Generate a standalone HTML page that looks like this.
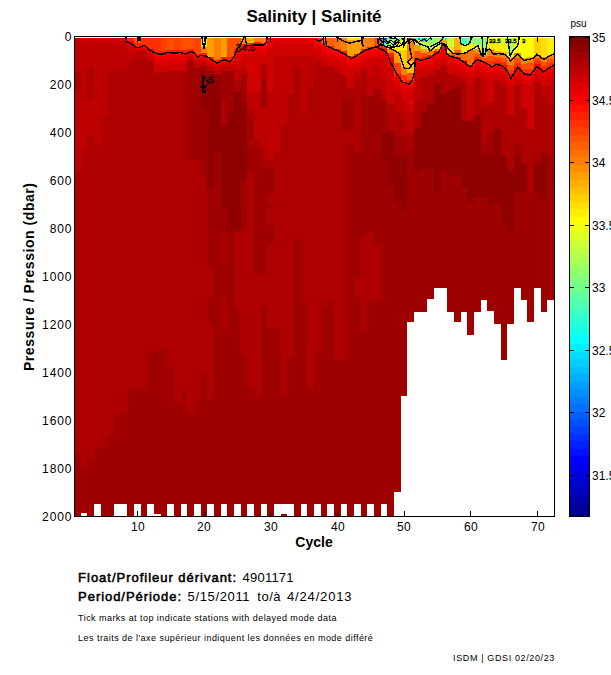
<!DOCTYPE html>
<html><head><meta charset="utf-8"><style>
html,body{margin:0;padding:0;background:#fff;width:611px;height:675px;overflow:hidden}
body{position:relative}
text{font-family:"Liberation Sans",sans-serif;fill:#000}
</style></head><body>
<svg width="611" height="675" viewBox="0 0 611 675" style="position:absolute;left:0;top:0" shape-rendering="crispEdges">
<rect x="74.00" y="38.00" width="6.67" height="0.90" fill="#cf0000"/>
<rect x="74.00" y="38.90" width="6.67" height="32.88" fill="#bf0000"/>
<rect x="74.00" y="71.78" width="6.67" height="20.64" fill="#af0000"/>
<rect x="74.00" y="92.42" width="6.67" height="79.68" fill="#bf0000"/>
<rect x="74.00" y="172.10" width="6.67" height="282.00" fill="#af0000"/>
<rect x="74.00" y="454.10" width="6.67" height="62.40" fill="#9f0000"/>
<rect x="80.67" y="38.00" width="6.67" height="6.18" fill="#cf0000"/>
<rect x="80.67" y="44.18" width="6.67" height="104.88" fill="#bf0000"/>
<rect x="80.67" y="149.06" width="6.67" height="316.80" fill="#af0000"/>
<rect x="80.67" y="465.86" width="6.67" height="50.64" fill="#9f0000"/>
<rect x="80.67" y="512.90" width="6.67" height="3.60" fill="#fff"/>
<rect x="87.33" y="38.00" width="6.67" height="28.50" fill="#bf0000"/>
<rect x="87.33" y="66.50" width="6.67" height="33.12" fill="#af0000"/>
<rect x="87.33" y="99.62" width="6.67" height="36.72" fill="#bf0000"/>
<rect x="87.33" y="136.34" width="6.67" height="321.36" fill="#af0000"/>
<rect x="87.33" y="457.70" width="6.67" height="58.80" fill="#9f0000"/>
<rect x="94.00" y="38.00" width="6.67" height="3.78" fill="#cf0000"/>
<rect x="94.00" y="41.78" width="6.67" height="103.68" fill="#bf0000"/>
<rect x="94.00" y="145.46" width="6.67" height="301.68" fill="#af0000"/>
<rect x="94.00" y="447.14" width="6.67" height="56.64" fill="#9f0000"/>
<rect x="100.67" y="38.00" width="6.67" height="3.78" fill="#cf0000"/>
<rect x="100.67" y="41.78" width="6.67" height="74.88" fill="#bf0000"/>
<rect x="100.67" y="116.66" width="6.67" height="330.48" fill="#af0000"/>
<rect x="100.67" y="447.14" width="6.67" height="69.36" fill="#9f0000"/>
<rect x="107.33" y="38.00" width="6.67" height="3.78" fill="#cf0000"/>
<rect x="107.33" y="41.78" width="6.67" height="29.28" fill="#bf0000"/>
<rect x="107.33" y="71.06" width="6.67" height="364.32" fill="#af0000"/>
<rect x="107.33" y="435.38" width="6.67" height="81.12" fill="#9f0000"/>
<rect x="114.00" y="38.00" width="6.67" height="7.38" fill="#cf0000"/>
<rect x="114.00" y="45.38" width="6.67" height="23.76" fill="#bf0000"/>
<rect x="114.00" y="69.14" width="6.67" height="345.60" fill="#af0000"/>
<rect x="114.00" y="414.74" width="6.67" height="89.04" fill="#9f0000"/>
<rect x="120.67" y="38.00" width="6.67" height="3.06" fill="#df0000"/>
<rect x="120.67" y="41.06" width="6.67" height="28.08" fill="#bf0000"/>
<rect x="120.67" y="69.14" width="6.67" height="343.92" fill="#af0000"/>
<rect x="120.67" y="413.06" width="6.67" height="90.72" fill="#9f0000"/>
<rect x="127.33" y="38.00" width="6.67" height="2.82" fill="#ff2000"/>
<rect x="127.33" y="40.82" width="6.67" height="4.08" fill="#ef0000"/>
<rect x="127.33" y="44.90" width="6.67" height="7.20" fill="#cf0000"/>
<rect x="127.33" y="52.10" width="6.67" height="9.12" fill="#bf0000"/>
<rect x="127.33" y="61.22" width="6.67" height="327.60" fill="#af0000"/>
<rect x="127.33" y="388.82" width="6.67" height="127.68" fill="#9f0000"/>
<rect x="134.00" y="38.00" width="6.67" height="5.22" fill="#ff5000"/>
<rect x="134.00" y="43.22" width="6.67" height="3.60" fill="#ff2000"/>
<rect x="134.00" y="46.82" width="6.67" height="4.32" fill="#df0000"/>
<rect x="134.00" y="51.14" width="6.67" height="7.20" fill="#bf0000"/>
<rect x="134.00" y="58.34" width="6.67" height="330.48" fill="#af0000"/>
<rect x="134.00" y="388.82" width="6.67" height="114.96" fill="#9f0000"/>
<rect x="140.67" y="38.00" width="6.67" height="6.90" fill="#ff3000"/>
<rect x="140.67" y="44.90" width="6.67" height="5.52" fill="#ef0000"/>
<rect x="140.67" y="50.42" width="6.67" height="8.88" fill="#bf0000"/>
<rect x="140.67" y="59.30" width="6.67" height="329.52" fill="#af0000"/>
<rect x="140.67" y="388.82" width="6.67" height="127.68" fill="#9f0000"/>
<rect x="147.33" y="38.00" width="6.67" height="10.50" fill="#ff3000"/>
<rect x="147.33" y="48.50" width="6.67" height="4.80" fill="#ef0000"/>
<rect x="147.33" y="53.30" width="6.67" height="7.20" fill="#cf0000"/>
<rect x="147.33" y="60.50" width="6.67" height="292.56" fill="#af0000"/>
<rect x="147.33" y="353.06" width="6.67" height="150.72" fill="#9f0000"/>
<rect x="154.00" y="38.00" width="6.67" height="12.66" fill="#ff3000"/>
<rect x="154.00" y="50.66" width="6.67" height="2.88" fill="#ff2000"/>
<rect x="154.00" y="53.54" width="6.67" height="2.40" fill="#ff0000"/>
<rect x="154.00" y="55.94" width="6.67" height="3.60" fill="#ef0000"/>
<rect x="154.00" y="59.54" width="6.67" height="4.80" fill="#df0000"/>
<rect x="154.00" y="64.34" width="6.67" height="7.20" fill="#cf0000"/>
<rect x="154.00" y="71.54" width="6.67" height="3.84" fill="#bf0000"/>
<rect x="154.00" y="75.38" width="6.67" height="275.52" fill="#af0000"/>
<rect x="154.00" y="350.90" width="6.67" height="165.60" fill="#9f0000"/>
<rect x="154.00" y="513.62" width="6.67" height="2.88" fill="#fff"/>
<rect x="160.67" y="38.00" width="6.67" height="12.90" fill="#ff4000"/>
<rect x="160.67" y="50.90" width="6.67" height="2.88" fill="#ff2000"/>
<rect x="160.67" y="53.78" width="6.67" height="2.40" fill="#ff0000"/>
<rect x="160.67" y="56.18" width="6.67" height="3.60" fill="#ef0000"/>
<rect x="160.67" y="59.78" width="6.67" height="4.80" fill="#df0000"/>
<rect x="160.67" y="64.58" width="6.67" height="7.20" fill="#cf0000"/>
<rect x="160.67" y="71.78" width="6.67" height="0.24" fill="#bf0000"/>
<rect x="160.67" y="72.02" width="6.67" height="275.52" fill="#af0000"/>
<rect x="160.67" y="347.54" width="6.67" height="168.96" fill="#9f0000"/>
<rect x="167.33" y="38.00" width="6.67" height="11.70" fill="#ff5000"/>
<rect x="167.33" y="49.70" width="6.67" height="2.88" fill="#ff2000"/>
<rect x="167.33" y="52.58" width="6.67" height="2.40" fill="#ff0000"/>
<rect x="167.33" y="54.98" width="6.67" height="3.60" fill="#ef0000"/>
<rect x="167.33" y="58.58" width="6.67" height="4.80" fill="#df0000"/>
<rect x="167.33" y="63.38" width="6.67" height="7.20" fill="#cf0000"/>
<rect x="167.33" y="70.58" width="6.67" height="296.40" fill="#af0000"/>
<rect x="167.33" y="366.98" width="6.67" height="136.80" fill="#9f0000"/>
<rect x="174.00" y="38.00" width="6.67" height="12.18" fill="#ff4000"/>
<rect x="174.00" y="50.18" width="6.67" height="2.88" fill="#ff2000"/>
<rect x="174.00" y="53.06" width="6.67" height="2.40" fill="#ff0000"/>
<rect x="174.00" y="55.46" width="6.67" height="3.60" fill="#ef0000"/>
<rect x="174.00" y="59.06" width="6.67" height="4.80" fill="#df0000"/>
<rect x="174.00" y="63.86" width="6.67" height="7.20" fill="#cf0000"/>
<rect x="174.00" y="71.06" width="6.67" height="331.68" fill="#af0000"/>
<rect x="174.00" y="402.74" width="6.67" height="113.76" fill="#9f0000"/>
<rect x="180.67" y="38.00" width="6.67" height="11.70" fill="#ff5000"/>
<rect x="180.67" y="49.70" width="6.67" height="2.88" fill="#ff2000"/>
<rect x="180.67" y="52.58" width="6.67" height="2.40" fill="#ff0000"/>
<rect x="180.67" y="54.98" width="6.67" height="3.60" fill="#ef0000"/>
<rect x="180.67" y="58.58" width="6.67" height="4.80" fill="#df0000"/>
<rect x="180.67" y="63.38" width="6.67" height="7.20" fill="#cf0000"/>
<rect x="180.67" y="70.58" width="6.67" height="318.00" fill="#af0000"/>
<rect x="180.67" y="388.58" width="6.67" height="115.20" fill="#9f0000"/>
<rect x="187.33" y="38.00" width="6.67" height="10.74" fill="#ff5000"/>
<rect x="187.33" y="48.74" width="6.67" height="2.88" fill="#ff2000"/>
<rect x="187.33" y="51.62" width="6.67" height="1.92" fill="#ef0000"/>
<rect x="187.33" y="53.54" width="6.67" height="2.40" fill="#df0000"/>
<rect x="187.33" y="55.94" width="6.67" height="2.88" fill="#cf0000"/>
<rect x="187.33" y="58.82" width="6.67" height="3.60" fill="#bf0000"/>
<rect x="187.33" y="62.42" width="6.67" height="97.68" fill="#9f0000"/>
<rect x="187.33" y="160.10" width="6.67" height="253.44" fill="#af0000"/>
<rect x="187.33" y="413.54" width="6.67" height="102.96" fill="#9f0000"/>
<rect x="194.00" y="38.00" width="6.67" height="16.02" fill="#ff4000"/>
<rect x="194.00" y="54.02" width="6.67" height="2.88" fill="#ff2000"/>
<rect x="194.00" y="56.90" width="6.67" height="1.92" fill="#ef0000"/>
<rect x="194.00" y="58.82" width="6.67" height="2.40" fill="#df0000"/>
<rect x="194.00" y="61.22" width="6.67" height="2.88" fill="#cf0000"/>
<rect x="194.00" y="64.10" width="6.67" height="3.60" fill="#bf0000"/>
<rect x="194.00" y="67.70" width="6.67" height="92.40" fill="#9f0000"/>
<rect x="194.00" y="160.10" width="6.67" height="240.96" fill="#af0000"/>
<rect x="194.00" y="401.06" width="6.67" height="102.72" fill="#9f0000"/>
<rect x="200.67" y="38.00" width="6.67" height="9.30" fill="#ffef00"/>
<rect x="200.67" y="47.30" width="6.67" height="5.28" fill="#ff8000"/>
<rect x="200.67" y="52.58" width="6.67" height="2.88" fill="#ff2000"/>
<rect x="200.67" y="55.46" width="6.67" height="1.92" fill="#ef0000"/>
<rect x="200.67" y="57.38" width="6.67" height="2.40" fill="#df0000"/>
<rect x="200.67" y="59.78" width="6.67" height="2.88" fill="#cf0000"/>
<rect x="200.67" y="62.66" width="6.67" height="3.60" fill="#bf0000"/>
<rect x="200.67" y="66.26" width="6.67" height="9.84" fill="#9f0000"/>
<rect x="200.67" y="76.10" width="6.67" height="33.12" fill="#8f0000"/>
<rect x="200.67" y="109.22" width="6.67" height="66.72" fill="#9f0000"/>
<rect x="200.67" y="175.94" width="6.67" height="196.56" fill="#af0000"/>
<rect x="200.67" y="372.50" width="6.67" height="144.00" fill="#9f0000"/>
<rect x="207.33" y="38.00" width="6.67" height="19.14" fill="#ff9f00"/>
<rect x="207.33" y="57.14" width="6.67" height="2.88" fill="#ff2000"/>
<rect x="207.33" y="60.02" width="6.67" height="1.92" fill="#ef0000"/>
<rect x="207.33" y="61.94" width="6.67" height="2.40" fill="#df0000"/>
<rect x="207.33" y="64.34" width="6.67" height="2.88" fill="#cf0000"/>
<rect x="207.33" y="67.22" width="6.67" height="3.60" fill="#bf0000"/>
<rect x="207.33" y="70.82" width="6.67" height="117.12" fill="#8f0000"/>
<rect x="207.33" y="187.94" width="6.67" height="79.44" fill="#9f0000"/>
<rect x="207.33" y="267.38" width="6.67" height="30.00" fill="#af0000"/>
<rect x="207.33" y="297.38" width="6.67" height="26.88" fill="#9f0000"/>
<rect x="207.33" y="324.26" width="6.67" height="74.88" fill="#af0000"/>
<rect x="207.33" y="399.14" width="6.67" height="104.64" fill="#9f0000"/>
<rect x="214.00" y="38.00" width="6.67" height="22.02" fill="#ff8000"/>
<rect x="214.00" y="60.02" width="6.67" height="2.88" fill="#ff2000"/>
<rect x="214.00" y="62.90" width="6.67" height="1.92" fill="#ef0000"/>
<rect x="214.00" y="64.82" width="6.67" height="2.40" fill="#df0000"/>
<rect x="214.00" y="67.22" width="6.67" height="2.88" fill="#cf0000"/>
<rect x="214.00" y="70.10" width="6.67" height="3.60" fill="#bf0000"/>
<rect x="214.00" y="73.70" width="6.67" height="2.40" fill="#9f0000"/>
<rect x="214.00" y="76.10" width="6.67" height="75.84" fill="#8f0000"/>
<rect x="214.00" y="151.94" width="6.67" height="364.56" fill="#9f0000"/>
<rect x="220.67" y="38.00" width="6.67" height="19.14" fill="#ff9f00"/>
<rect x="220.67" y="57.14" width="6.67" height="2.88" fill="#ff2000"/>
<rect x="220.67" y="60.02" width="6.67" height="1.92" fill="#ef0000"/>
<rect x="220.67" y="61.94" width="6.67" height="2.40" fill="#df0000"/>
<rect x="220.67" y="64.34" width="6.67" height="2.88" fill="#cf0000"/>
<rect x="220.67" y="67.22" width="6.67" height="3.60" fill="#bf0000"/>
<rect x="220.67" y="70.82" width="6.67" height="29.28" fill="#9f0000"/>
<rect x="220.67" y="100.10" width="6.67" height="25.20" fill="#af0000"/>
<rect x="220.67" y="125.30" width="6.67" height="84.00" fill="#8f0000"/>
<rect x="220.67" y="209.30" width="6.67" height="27.84" fill="#9f0000"/>
<rect x="220.67" y="237.14" width="6.67" height="23.52" fill="#af0000"/>
<rect x="220.67" y="260.66" width="6.67" height="36.72" fill="#9f0000"/>
<rect x="220.67" y="297.38" width="6.67" height="32.16" fill="#af0000"/>
<rect x="220.67" y="329.54" width="6.67" height="174.24" fill="#9f0000"/>
<rect x="227.33" y="38.00" width="6.67" height="19.14" fill="#ff5000"/>
<rect x="227.33" y="57.14" width="6.67" height="2.88" fill="#ff2000"/>
<rect x="227.33" y="60.02" width="6.67" height="1.92" fill="#ef0000"/>
<rect x="227.33" y="61.94" width="6.67" height="2.40" fill="#df0000"/>
<rect x="227.33" y="64.34" width="6.67" height="2.88" fill="#cf0000"/>
<rect x="227.33" y="67.22" width="6.67" height="3.60" fill="#bf0000"/>
<rect x="227.33" y="70.82" width="6.67" height="42.48" fill="#9f0000"/>
<rect x="227.33" y="113.30" width="6.67" height="117.36" fill="#8f0000"/>
<rect x="227.33" y="230.66" width="6.67" height="285.84" fill="#9f0000"/>
<rect x="234.00" y="38.00" width="6.67" height="10.50" fill="#ff5000"/>
<rect x="234.00" y="48.50" width="6.67" height="2.88" fill="#ff2000"/>
<rect x="234.00" y="51.38" width="6.67" height="2.40" fill="#ff0000"/>
<rect x="234.00" y="53.78" width="6.67" height="3.60" fill="#ef0000"/>
<rect x="234.00" y="57.38" width="6.67" height="4.80" fill="#df0000"/>
<rect x="234.00" y="62.18" width="6.67" height="7.20" fill="#cf0000"/>
<rect x="234.00" y="69.38" width="6.67" height="10.32" fill="#bf0000"/>
<rect x="234.00" y="79.70" width="6.67" height="12.48" fill="#af0000"/>
<rect x="234.00" y="92.18" width="6.67" height="138.48" fill="#8f0000"/>
<rect x="234.00" y="230.66" width="6.67" height="1.68" fill="#9f0000"/>
<rect x="234.00" y="232.34" width="6.67" height="75.84" fill="#af0000"/>
<rect x="234.00" y="308.18" width="6.67" height="195.60" fill="#9f0000"/>
<rect x="240.67" y="38.00" width="6.67" height="6.18" fill="#ff8f00"/>
<rect x="240.67" y="44.18" width="6.67" height="2.40" fill="#ff2000"/>
<rect x="240.67" y="46.58" width="6.67" height="2.40" fill="#ff0000"/>
<rect x="240.67" y="48.98" width="6.67" height="3.60" fill="#ef0000"/>
<rect x="240.67" y="52.58" width="6.67" height="4.80" fill="#df0000"/>
<rect x="240.67" y="57.38" width="6.67" height="7.20" fill="#cf0000"/>
<rect x="240.67" y="64.58" width="6.67" height="9.12" fill="#bf0000"/>
<rect x="240.67" y="73.70" width="6.67" height="28.08" fill="#9f0000"/>
<rect x="240.67" y="101.78" width="6.67" height="77.76" fill="#8f0000"/>
<rect x="240.67" y="179.54" width="6.67" height="49.68" fill="#9f0000"/>
<rect x="240.67" y="229.22" width="6.67" height="125.28" fill="#af0000"/>
<rect x="240.67" y="354.50" width="6.67" height="162.00" fill="#9f0000"/>
<rect x="247.33" y="38.00" width="6.67" height="4.74" fill="#ffaf00"/>
<rect x="247.33" y="42.74" width="6.67" height="2.40" fill="#ff2000"/>
<rect x="247.33" y="45.14" width="6.67" height="2.40" fill="#ff0000"/>
<rect x="247.33" y="47.54" width="6.67" height="3.60" fill="#ef0000"/>
<rect x="247.33" y="51.14" width="6.67" height="4.80" fill="#df0000"/>
<rect x="247.33" y="55.94" width="6.67" height="7.20" fill="#cf0000"/>
<rect x="247.33" y="63.14" width="6.67" height="7.68" fill="#df0000"/>
<rect x="247.33" y="70.82" width="6.67" height="23.52" fill="#cf0000"/>
<rect x="247.33" y="94.34" width="6.67" height="13.44" fill="#bf0000"/>
<rect x="247.33" y="107.78" width="6.67" height="10.32" fill="#af0000"/>
<rect x="247.33" y="118.10" width="6.67" height="22.32" fill="#9f0000"/>
<rect x="247.33" y="140.42" width="6.67" height="4.32" fill="#af0000"/>
<rect x="247.33" y="144.74" width="6.67" height="26.88" fill="#9f0000"/>
<rect x="247.33" y="171.62" width="6.67" height="215.04" fill="#af0000"/>
<rect x="247.33" y="386.66" width="6.67" height="117.12" fill="#9f0000"/>
<rect x="254.00" y="38.00" width="6.67" height="4.02" fill="#ff8000"/>
<rect x="254.00" y="42.02" width="6.67" height="2.40" fill="#ff2000"/>
<rect x="254.00" y="44.42" width="6.67" height="2.40" fill="#ff0000"/>
<rect x="254.00" y="46.82" width="6.67" height="3.60" fill="#ef0000"/>
<rect x="254.00" y="50.42" width="6.67" height="4.80" fill="#df0000"/>
<rect x="254.00" y="55.22" width="6.67" height="7.20" fill="#cf0000"/>
<rect x="254.00" y="62.42" width="6.67" height="29.04" fill="#cf0000"/>
<rect x="254.00" y="91.46" width="6.67" height="47.52" fill="#bf0000"/>
<rect x="254.00" y="138.98" width="6.67" height="9.36" fill="#af0000"/>
<rect x="254.00" y="148.34" width="6.67" height="125.52" fill="#9f0000"/>
<rect x="254.00" y="273.86" width="6.67" height="123.60" fill="#af0000"/>
<rect x="254.00" y="397.46" width="6.67" height="119.04" fill="#9f0000"/>
<rect x="260.67" y="38.00" width="6.67" height="4.74" fill="#ff8000"/>
<rect x="260.67" y="42.74" width="6.67" height="2.40" fill="#ff2000"/>
<rect x="260.67" y="45.14" width="6.67" height="2.40" fill="#ff0000"/>
<rect x="260.67" y="47.54" width="6.67" height="3.60" fill="#ef0000"/>
<rect x="260.67" y="51.14" width="6.67" height="4.80" fill="#df0000"/>
<rect x="260.67" y="55.94" width="6.67" height="7.20" fill="#cf0000"/>
<rect x="260.67" y="63.14" width="6.67" height="1.68" fill="#bf0000"/>
<rect x="260.67" y="64.82" width="6.67" height="13.44" fill="#af0000"/>
<rect x="260.67" y="78.26" width="6.67" height="29.52" fill="#9f0000"/>
<rect x="260.67" y="107.78" width="6.67" height="40.08" fill="#bf0000"/>
<rect x="260.67" y="147.86" width="6.67" height="20.88" fill="#af0000"/>
<rect x="260.67" y="168.74" width="6.67" height="107.28" fill="#9f0000"/>
<rect x="260.67" y="276.02" width="6.67" height="30.24" fill="#af0000"/>
<rect x="260.67" y="306.26" width="6.67" height="197.52" fill="#9f0000"/>
<rect x="267.33" y="38.00" width="6.67" height="0.42" fill="#ff2000"/>
<rect x="267.33" y="38.42" width="6.67" height="2.40" fill="#ff0000"/>
<rect x="267.33" y="40.82" width="6.67" height="3.60" fill="#ef0000"/>
<rect x="267.33" y="44.42" width="6.67" height="4.80" fill="#df0000"/>
<rect x="267.33" y="49.22" width="6.67" height="7.20" fill="#cf0000"/>
<rect x="267.33" y="56.42" width="6.67" height="35.04" fill="#cf0000"/>
<rect x="267.33" y="91.46" width="6.67" height="67.68" fill="#bf0000"/>
<rect x="267.33" y="159.14" width="6.67" height="8.88" fill="#af0000"/>
<rect x="267.33" y="168.02" width="6.67" height="27.36" fill="#9f0000"/>
<rect x="267.33" y="195.38" width="6.67" height="7.68" fill="#af0000"/>
<rect x="267.33" y="203.06" width="6.67" height="5.28" fill="#9f0000"/>
<rect x="267.33" y="208.34" width="6.67" height="17.04" fill="#af0000"/>
<rect x="267.33" y="225.38" width="6.67" height="18.24" fill="#9f0000"/>
<rect x="267.33" y="243.62" width="6.67" height="84.24" fill="#af0000"/>
<rect x="267.33" y="327.86" width="6.67" height="188.64" fill="#9f0000"/>
<rect x="274.00" y="38.00" width="6.67" height="5.70" fill="#df0000"/>
<rect x="274.00" y="43.70" width="6.67" height="12.00" fill="#cf0000"/>
<rect x="274.00" y="55.70" width="6.67" height="96.24" fill="#bf0000"/>
<rect x="274.00" y="151.94" width="6.67" height="175.92" fill="#af0000"/>
<rect x="274.00" y="327.86" width="6.67" height="175.92" fill="#9f0000"/>
<rect x="280.67" y="38.00" width="6.67" height="5.70" fill="#df0000"/>
<rect x="280.67" y="43.70" width="6.67" height="12.00" fill="#cf0000"/>
<rect x="280.67" y="55.70" width="6.67" height="69.60" fill="#bf0000"/>
<rect x="280.67" y="125.30" width="6.67" height="268.56" fill="#af0000"/>
<rect x="280.67" y="393.86" width="6.67" height="122.64" fill="#9f0000"/>
<rect x="280.67" y="504.02" width="6.67" height="10.08" fill="#fff"/>
<rect x="287.33" y="38.00" width="6.67" height="5.70" fill="#df0000"/>
<rect x="287.33" y="43.70" width="6.67" height="12.24" fill="#cf0000"/>
<rect x="287.33" y="55.94" width="6.67" height="37.68" fill="#bf0000"/>
<rect x="287.33" y="93.62" width="6.67" height="264.48" fill="#af0000"/>
<rect x="287.33" y="358.10" width="6.67" height="145.68" fill="#9f0000"/>
<rect x="294.00" y="38.00" width="6.67" height="5.70" fill="#df0000"/>
<rect x="294.00" y="43.70" width="6.67" height="12.24" fill="#cf0000"/>
<rect x="294.00" y="55.94" width="6.67" height="10.56" fill="#bf0000"/>
<rect x="294.00" y="66.50" width="6.67" height="172.08" fill="#af0000"/>
<rect x="294.00" y="238.58" width="6.67" height="277.92" fill="#9f0000"/>
<rect x="300.67" y="38.00" width="6.67" height="5.70" fill="#df0000"/>
<rect x="300.67" y="43.70" width="6.67" height="12.24" fill="#cf0000"/>
<rect x="300.67" y="55.94" width="6.67" height="57.84" fill="#bf0000"/>
<rect x="300.67" y="113.78" width="6.67" height="187.20" fill="#af0000"/>
<rect x="300.67" y="300.98" width="6.67" height="202.80" fill="#9f0000"/>
<rect x="307.33" y="38.00" width="6.67" height="5.70" fill="#df0000"/>
<rect x="307.33" y="43.70" width="6.67" height="12.24" fill="#cf0000"/>
<rect x="307.33" y="55.94" width="6.67" height="31.20" fill="#bf0000"/>
<rect x="307.33" y="87.14" width="6.67" height="301.44" fill="#af0000"/>
<rect x="307.33" y="388.58" width="6.67" height="127.92" fill="#9f0000"/>
<rect x="314.00" y="38.00" width="6.67" height="0.90" fill="#ff2000"/>
<rect x="314.00" y="38.90" width="6.67" height="1.92" fill="#ff2000"/>
<rect x="314.00" y="40.82" width="6.67" height="2.40" fill="#ff0000"/>
<rect x="314.00" y="43.22" width="6.67" height="3.60" fill="#ef0000"/>
<rect x="314.00" y="46.82" width="6.67" height="4.80" fill="#df0000"/>
<rect x="314.00" y="51.62" width="6.67" height="7.20" fill="#cf0000"/>
<rect x="314.00" y="58.82" width="6.67" height="3.84" fill="#bf0000"/>
<rect x="314.00" y="62.66" width="6.67" height="288.24" fill="#af0000"/>
<rect x="314.00" y="350.90" width="6.67" height="152.88" fill="#9f0000"/>
<rect x="320.67" y="38.00" width="6.67" height="4.50" fill="#ff5000"/>
<rect x="320.67" y="42.50" width="6.67" height="2.40" fill="#ff2000"/>
<rect x="320.67" y="44.90" width="6.67" height="2.40" fill="#ff0000"/>
<rect x="320.67" y="47.30" width="6.67" height="3.60" fill="#ef0000"/>
<rect x="320.67" y="50.90" width="6.67" height="4.80" fill="#df0000"/>
<rect x="320.67" y="55.70" width="6.67" height="7.20" fill="#cf0000"/>
<rect x="320.67" y="62.90" width="6.67" height="4.80" fill="#bf0000"/>
<rect x="320.67" y="67.70" width="6.67" height="240.48" fill="#af0000"/>
<rect x="320.67" y="308.18" width="6.67" height="208.32" fill="#9f0000"/>
<rect x="327.33" y="38.00" width="6.67" height="8.10" fill="#ff6000"/>
<rect x="327.33" y="46.10" width="6.67" height="1.92" fill="#ff2000"/>
<rect x="327.33" y="48.02" width="6.67" height="2.40" fill="#ff0000"/>
<rect x="327.33" y="50.42" width="6.67" height="3.60" fill="#ef0000"/>
<rect x="327.33" y="54.02" width="6.67" height="4.80" fill="#df0000"/>
<rect x="327.33" y="58.82" width="6.67" height="7.20" fill="#cf0000"/>
<rect x="327.33" y="66.02" width="6.67" height="233.28" fill="#af0000"/>
<rect x="327.33" y="299.30" width="6.67" height="204.48" fill="#9f0000"/>
<rect x="334.00" y="38.00" width="6.67" height="10.50" fill="#ff7000"/>
<rect x="334.00" y="48.50" width="6.67" height="2.16" fill="#ff2000"/>
<rect x="334.00" y="50.66" width="6.67" height="2.40" fill="#ff0000"/>
<rect x="334.00" y="53.06" width="6.67" height="3.60" fill="#ef0000"/>
<rect x="334.00" y="56.66" width="6.67" height="4.80" fill="#df0000"/>
<rect x="334.00" y="61.46" width="6.67" height="7.20" fill="#cf0000"/>
<rect x="334.00" y="68.66" width="6.67" height="5.04" fill="#bf0000"/>
<rect x="334.00" y="73.70" width="6.67" height="286.32" fill="#af0000"/>
<rect x="334.00" y="360.02" width="6.67" height="156.48" fill="#9f0000"/>
<rect x="340.67" y="38.00" width="6.67" height="12.90" fill="#ff8000"/>
<rect x="340.67" y="50.90" width="6.67" height="2.40" fill="#ff2000"/>
<rect x="340.67" y="53.30" width="6.67" height="2.40" fill="#ff0000"/>
<rect x="340.67" y="55.70" width="6.67" height="3.60" fill="#ef0000"/>
<rect x="340.67" y="59.30" width="6.67" height="4.80" fill="#df0000"/>
<rect x="340.67" y="64.10" width="6.67" height="7.20" fill="#cf0000"/>
<rect x="340.67" y="71.30" width="6.67" height="3.84" fill="#cf0000"/>
<rect x="340.67" y="75.14" width="6.67" height="20.16" fill="#af0000"/>
<rect x="340.67" y="95.30" width="6.67" height="34.56" fill="#9f0000"/>
<rect x="340.67" y="129.86" width="6.67" height="230.16" fill="#af0000"/>
<rect x="340.67" y="360.02" width="6.67" height="143.76" fill="#9f0000"/>
<rect x="347.33" y="38.00" width="6.67" height="2.10" fill="#ffef00"/>
<rect x="347.33" y="40.10" width="6.67" height="15.60" fill="#ff9f00"/>
<rect x="347.33" y="55.70" width="6.67" height="2.16" fill="#ff2000"/>
<rect x="347.33" y="57.86" width="6.67" height="2.40" fill="#ff0000"/>
<rect x="347.33" y="60.26" width="6.67" height="3.60" fill="#ef0000"/>
<rect x="347.33" y="63.86" width="6.67" height="4.80" fill="#df0000"/>
<rect x="347.33" y="68.66" width="6.67" height="7.20" fill="#cf0000"/>
<rect x="347.33" y="75.86" width="6.67" height="11.28" fill="#cf0000"/>
<rect x="347.33" y="87.14" width="6.67" height="11.76" fill="#af0000"/>
<rect x="347.33" y="98.90" width="6.67" height="32.64" fill="#9f0000"/>
<rect x="347.33" y="131.54" width="6.67" height="13.20" fill="#af0000"/>
<rect x="347.33" y="144.74" width="6.67" height="371.76" fill="#9f0000"/>
<rect x="354.00" y="38.00" width="6.67" height="2.10" fill="#ffdf00"/>
<rect x="354.00" y="40.10" width="6.67" height="13.68" fill="#ff9f00"/>
<rect x="354.00" y="53.78" width="6.67" height="2.16" fill="#ff2000"/>
<rect x="354.00" y="55.94" width="6.67" height="2.40" fill="#ff0000"/>
<rect x="354.00" y="58.34" width="6.67" height="3.60" fill="#ef0000"/>
<rect x="354.00" y="61.94" width="6.67" height="4.80" fill="#df0000"/>
<rect x="354.00" y="66.74" width="6.67" height="7.20" fill="#cf0000"/>
<rect x="354.00" y="73.94" width="6.67" height="5.76" fill="#bf0000"/>
<rect x="354.00" y="79.70" width="6.67" height="72.72" fill="#af0000"/>
<rect x="354.00" y="152.42" width="6.67" height="123.60" fill="#9f0000"/>
<rect x="354.00" y="276.02" width="6.67" height="21.36" fill="#af0000"/>
<rect x="354.00" y="297.38" width="6.67" height="206.40" fill="#9f0000"/>
<rect x="360.67" y="38.00" width="6.67" height="10.50" fill="#ff8000"/>
<rect x="360.67" y="48.50" width="6.67" height="2.16" fill="#ff2000"/>
<rect x="360.67" y="50.66" width="6.67" height="2.40" fill="#ff0000"/>
<rect x="360.67" y="53.06" width="6.67" height="3.60" fill="#ef0000"/>
<rect x="360.67" y="56.66" width="6.67" height="4.80" fill="#df0000"/>
<rect x="360.67" y="61.46" width="6.67" height="7.20" fill="#cf0000"/>
<rect x="360.67" y="68.66" width="6.67" height="24.96" fill="#af0000"/>
<rect x="360.67" y="93.62" width="6.67" height="142.32" fill="#9f0000"/>
<rect x="360.67" y="235.94" width="6.67" height="93.60" fill="#af0000"/>
<rect x="360.67" y="329.54" width="6.67" height="186.96" fill="#9f0000"/>
<rect x="367.33" y="38.00" width="6.67" height="8.58" fill="#ff8000"/>
<rect x="367.33" y="46.58" width="6.67" height="1.92" fill="#ff2000"/>
<rect x="367.33" y="48.50" width="6.67" height="2.40" fill="#ff0000"/>
<rect x="367.33" y="50.90" width="6.67" height="3.60" fill="#ef0000"/>
<rect x="367.33" y="54.50" width="6.67" height="4.80" fill="#df0000"/>
<rect x="367.33" y="59.30" width="6.67" height="7.20" fill="#cf0000"/>
<rect x="367.33" y="66.50" width="6.67" height="8.64" fill="#cf0000"/>
<rect x="367.33" y="75.14" width="6.67" height="20.88" fill="#bf0000"/>
<rect x="367.33" y="96.02" width="6.67" height="135.84" fill="#9f0000"/>
<rect x="367.33" y="231.86" width="6.67" height="68.64" fill="#af0000"/>
<rect x="367.33" y="300.50" width="6.67" height="203.28" fill="#9f0000"/>
<rect x="374.00" y="38.00" width="6.67" height="0.90" fill="#ff3000"/>
<rect x="374.00" y="38.90" width="6.67" height="7.20" fill="#ff5000"/>
<rect x="374.00" y="46.10" width="6.67" height="2.40" fill="#ff2000"/>
<rect x="374.00" y="48.50" width="6.67" height="2.40" fill="#ff0000"/>
<rect x="374.00" y="50.90" width="6.67" height="3.60" fill="#ef0000"/>
<rect x="374.00" y="54.50" width="6.67" height="4.80" fill="#df0000"/>
<rect x="374.00" y="59.30" width="6.67" height="7.20" fill="#cf0000"/>
<rect x="374.00" y="66.50" width="6.67" height="22.08" fill="#bf0000"/>
<rect x="374.00" y="88.58" width="6.67" height="155.04" fill="#9f0000"/>
<rect x="374.00" y="243.62" width="6.67" height="56.88" fill="#af0000"/>
<rect x="374.00" y="300.50" width="6.67" height="216.00" fill="#9f0000"/>
<rect x="380.67" y="38.00" width="6.67" height="1.38" fill="#0030ff"/>
<rect x="380.67" y="39.38" width="6.67" height="3.12" fill="#00afff"/>
<rect x="380.67" y="42.50" width="6.67" height="3.12" fill="#70ff8f"/>
<rect x="380.67" y="45.62" width="6.67" height="1.68" fill="#ff3000"/>
<rect x="380.67" y="47.30" width="6.67" height="1.20" fill="#ff2000"/>
<rect x="380.67" y="48.50" width="6.67" height="2.40" fill="#ff0000"/>
<rect x="380.67" y="50.90" width="6.67" height="3.60" fill="#ef0000"/>
<rect x="380.67" y="54.50" width="6.67" height="4.80" fill="#df0000"/>
<rect x="380.67" y="59.30" width="6.67" height="7.20" fill="#cf0000"/>
<rect x="380.67" y="66.50" width="6.67" height="11.52" fill="#cf0000"/>
<rect x="380.67" y="78.02" width="6.67" height="22.32" fill="#bf0000"/>
<rect x="380.67" y="100.34" width="6.67" height="32.64" fill="#9f0000"/>
<rect x="380.67" y="132.98" width="6.67" height="26.40" fill="#8f0000"/>
<rect x="380.67" y="159.38" width="6.67" height="344.40" fill="#9f0000"/>
<rect x="387.33" y="38.00" width="6.67" height="1.38" fill="#10ffef"/>
<rect x="387.33" y="39.38" width="6.67" height="5.52" fill="#80ff80"/>
<rect x="387.33" y="44.90" width="6.67" height="3.60" fill="#dfff20"/>
<rect x="387.33" y="48.50" width="6.67" height="4.80" fill="#ff8000"/>
<rect x="387.33" y="53.30" width="6.67" height="3.60" fill="#ff2000"/>
<rect x="387.33" y="56.90" width="6.67" height="2.40" fill="#ff0000"/>
<rect x="387.33" y="59.30" width="6.67" height="3.60" fill="#ef0000"/>
<rect x="387.33" y="62.90" width="6.67" height="4.80" fill="#df0000"/>
<rect x="387.33" y="67.70" width="6.67" height="7.20" fill="#cf0000"/>
<rect x="387.33" y="74.90" width="6.67" height="27.60" fill="#cf0000"/>
<rect x="387.33" y="102.50" width="6.67" height="28.56" fill="#af0000"/>
<rect x="387.33" y="131.06" width="6.67" height="54.96" fill="#8f0000"/>
<rect x="387.33" y="186.02" width="6.67" height="330.48" fill="#9f0000"/>
<rect x="394.00" y="38.00" width="6.67" height="4.74" fill="#8fff70"/>
<rect x="394.00" y="42.74" width="6.67" height="7.92" fill="#ffef00"/>
<rect x="394.00" y="50.66" width="6.67" height="12.72" fill="#ff9f00"/>
<rect x="394.00" y="63.38" width="6.67" height="9.12" fill="#ff4000"/>
<rect x="394.00" y="72.50" width="6.67" height="2.40" fill="#ff2000"/>
<rect x="394.00" y="74.90" width="6.67" height="2.40" fill="#ff0000"/>
<rect x="394.00" y="77.30" width="6.67" height="3.60" fill="#ef0000"/>
<rect x="394.00" y="80.90" width="6.67" height="4.80" fill="#df0000"/>
<rect x="394.00" y="85.70" width="6.67" height="7.20" fill="#cf0000"/>
<rect x="394.00" y="92.90" width="6.67" height="19.20" fill="#bf0000"/>
<rect x="394.00" y="112.10" width="6.67" height="23.76" fill="#af0000"/>
<rect x="394.00" y="135.86" width="6.67" height="20.16" fill="#9f0000"/>
<rect x="394.00" y="156.02" width="6.67" height="47.04" fill="#8f0000"/>
<rect x="394.00" y="203.06" width="6.67" height="288.96" fill="#9f0000"/>
<rect x="400.67" y="38.00" width="6.67" height="1.86" fill="#9fff60"/>
<rect x="400.67" y="39.86" width="6.67" height="9.84" fill="#ffef00"/>
<rect x="400.67" y="49.70" width="6.67" height="16.80" fill="#ffcf00"/>
<rect x="400.67" y="66.50" width="6.67" height="8.64" fill="#ff8000"/>
<rect x="400.67" y="75.14" width="6.67" height="5.76" fill="#ff3000"/>
<rect x="400.67" y="80.90" width="6.67" height="1.20" fill="#ff2000"/>
<rect x="400.67" y="82.10" width="6.67" height="2.40" fill="#ff0000"/>
<rect x="400.67" y="84.50" width="6.67" height="3.60" fill="#ef0000"/>
<rect x="400.67" y="88.10" width="6.67" height="4.80" fill="#df0000"/>
<rect x="400.67" y="92.90" width="6.67" height="7.20" fill="#cf0000"/>
<rect x="400.67" y="100.10" width="6.67" height="19.20" fill="#bf0000"/>
<rect x="400.67" y="119.30" width="6.67" height="18.00" fill="#af0000"/>
<rect x="400.67" y="137.30" width="6.67" height="18.72" fill="#9f0000"/>
<rect x="400.67" y="156.02" width="6.67" height="56.40" fill="#8f0000"/>
<rect x="400.67" y="212.42" width="6.67" height="183.12" fill="#9f0000"/>
<rect x="407.33" y="38.00" width="6.67" height="0.90" fill="#ff5000"/>
<rect x="407.33" y="38.90" width="6.67" height="21.60" fill="#ff8000"/>
<rect x="407.33" y="60.50" width="6.67" height="12.00" fill="#ffbf00"/>
<rect x="407.33" y="72.50" width="6.67" height="7.20" fill="#ff5000"/>
<rect x="407.33" y="79.70" width="6.67" height="2.40" fill="#ff2000"/>
<rect x="407.33" y="82.10" width="6.67" height="2.40" fill="#ff0000"/>
<rect x="407.33" y="84.50" width="6.67" height="3.60" fill="#ef0000"/>
<rect x="407.33" y="88.10" width="6.67" height="4.80" fill="#df0000"/>
<rect x="407.33" y="92.90" width="6.67" height="7.20" fill="#cf0000"/>
<rect x="407.33" y="100.10" width="6.67" height="3.60" fill="#df0000"/>
<rect x="407.33" y="103.70" width="6.67" height="9.60" fill="#cf0000"/>
<rect x="407.33" y="113.30" width="6.67" height="19.20" fill="#bf0000"/>
<rect x="407.33" y="132.50" width="6.67" height="16.32" fill="#af0000"/>
<rect x="407.33" y="148.82" width="6.67" height="173.52" fill="#9f0000"/>
<rect x="414.00" y="38.00" width="6.67" height="2.10" fill="#30ffcf"/>
<rect x="414.00" y="40.10" width="6.67" height="4.80" fill="#ffef00"/>
<rect x="414.00" y="44.90" width="6.67" height="6.00" fill="#ff9f00"/>
<rect x="414.00" y="50.90" width="6.67" height="7.20" fill="#ff5000"/>
<rect x="414.00" y="58.10" width="6.67" height="1.44" fill="#ff2000"/>
<rect x="414.00" y="59.54" width="6.67" height="2.40" fill="#ff0000"/>
<rect x="414.00" y="61.94" width="6.67" height="3.60" fill="#ef0000"/>
<rect x="414.00" y="65.54" width="6.67" height="4.80" fill="#df0000"/>
<rect x="414.00" y="70.34" width="6.67" height="7.20" fill="#cf0000"/>
<rect x="414.00" y="77.54" width="6.67" height="21.60" fill="#bf0000"/>
<rect x="414.00" y="99.14" width="6.67" height="28.32" fill="#af0000"/>
<rect x="414.00" y="127.46" width="6.67" height="45.60" fill="#8f0000"/>
<rect x="414.00" y="173.06" width="6.67" height="138.72" fill="#9f0000"/>
<rect x="420.67" y="38.00" width="6.67" height="3.78" fill="#00dfff"/>
<rect x="420.67" y="41.78" width="6.67" height="6.96" fill="#bfff40"/>
<rect x="420.67" y="48.74" width="6.67" height="4.56" fill="#ff9f00"/>
<rect x="420.67" y="53.30" width="6.67" height="3.84" fill="#ff5000"/>
<rect x="420.67" y="57.14" width="6.67" height="1.44" fill="#ff2000"/>
<rect x="420.67" y="58.58" width="6.67" height="2.40" fill="#ff0000"/>
<rect x="420.67" y="60.98" width="6.67" height="3.60" fill="#ef0000"/>
<rect x="420.67" y="64.58" width="6.67" height="4.80" fill="#df0000"/>
<rect x="420.67" y="69.38" width="6.67" height="7.20" fill="#cf0000"/>
<rect x="420.67" y="76.58" width="6.67" height="34.80" fill="#af0000"/>
<rect x="420.67" y="111.38" width="6.67" height="57.12" fill="#8f0000"/>
<rect x="420.67" y="168.50" width="6.67" height="143.28" fill="#9f0000"/>
<rect x="427.33" y="38.00" width="6.67" height="5.70" fill="#80ff80"/>
<rect x="427.33" y="43.70" width="6.67" height="3.60" fill="#cfff30"/>
<rect x="427.33" y="47.30" width="6.67" height="3.60" fill="#ffdf00"/>
<rect x="427.33" y="50.90" width="6.67" height="3.60" fill="#ff7000"/>
<rect x="427.33" y="54.50" width="6.67" height="1.20" fill="#ff2000"/>
<rect x="427.33" y="55.70" width="6.67" height="2.40" fill="#ff0000"/>
<rect x="427.33" y="58.10" width="6.67" height="3.60" fill="#ef0000"/>
<rect x="427.33" y="61.70" width="6.67" height="4.80" fill="#df0000"/>
<rect x="427.33" y="66.50" width="6.67" height="7.20" fill="#cf0000"/>
<rect x="427.33" y="73.70" width="6.67" height="28.80" fill="#af0000"/>
<rect x="427.33" y="102.50" width="6.67" height="66.00" fill="#8f0000"/>
<rect x="427.33" y="168.50" width="6.67" height="130.80" fill="#9f0000"/>
<rect x="434.00" y="38.00" width="6.67" height="8.10" fill="#9fff60"/>
<rect x="434.00" y="46.10" width="6.67" height="2.40" fill="#ffef00"/>
<rect x="434.00" y="48.50" width="6.67" height="2.88" fill="#ff7000"/>
<rect x="434.00" y="51.38" width="6.67" height="0.72" fill="#ff2000"/>
<rect x="434.00" y="52.10" width="6.67" height="2.40" fill="#ff0000"/>
<rect x="434.00" y="54.50" width="6.67" height="3.60" fill="#ef0000"/>
<rect x="434.00" y="58.10" width="6.67" height="4.80" fill="#df0000"/>
<rect x="434.00" y="62.90" width="6.67" height="7.20" fill="#cf0000"/>
<rect x="434.00" y="70.10" width="6.67" height="12.48" fill="#af0000"/>
<rect x="434.00" y="82.58" width="6.67" height="108.96" fill="#8f0000"/>
<rect x="434.00" y="191.54" width="6.67" height="96.00" fill="#9f0000"/>
<rect x="440.67" y="38.00" width="6.67" height="2.10" fill="#20ffdf"/>
<rect x="440.67" y="40.10" width="6.67" height="3.60" fill="#ff9f00"/>
<rect x="440.67" y="43.70" width="6.67" height="2.88" fill="#ff3000"/>
<rect x="440.67" y="46.58" width="6.67" height="0.72" fill="#ff2000"/>
<rect x="440.67" y="47.30" width="6.67" height="2.40" fill="#ff0000"/>
<rect x="440.67" y="49.70" width="6.67" height="3.60" fill="#ef0000"/>
<rect x="440.67" y="53.30" width="6.67" height="4.80" fill="#df0000"/>
<rect x="440.67" y="58.10" width="6.67" height="7.20" fill="#cf0000"/>
<rect x="440.67" y="65.30" width="6.67" height="28.56" fill="#af0000"/>
<rect x="440.67" y="93.86" width="6.67" height="76.32" fill="#8f0000"/>
<rect x="440.67" y="170.18" width="6.67" height="117.36" fill="#9f0000"/>
<rect x="447.33" y="38.00" width="6.67" height="9.30" fill="#cfff30"/>
<rect x="447.33" y="47.30" width="6.67" height="5.28" fill="#ffdf00"/>
<rect x="447.33" y="52.58" width="6.67" height="2.64" fill="#ff7000"/>
<rect x="447.33" y="55.22" width="6.67" height="0.72" fill="#ff2000"/>
<rect x="447.33" y="55.94" width="6.67" height="2.40" fill="#ff0000"/>
<rect x="447.33" y="58.34" width="6.67" height="3.60" fill="#ef0000"/>
<rect x="447.33" y="61.94" width="6.67" height="4.80" fill="#df0000"/>
<rect x="447.33" y="66.74" width="6.67" height="7.20" fill="#cf0000"/>
<rect x="447.33" y="73.94" width="6.67" height="16.32" fill="#af0000"/>
<rect x="447.33" y="90.26" width="6.67" height="85.20" fill="#8f0000"/>
<rect x="447.33" y="175.46" width="6.67" height="136.32" fill="#9f0000"/>
<rect x="454.00" y="38.00" width="6.67" height="11.94" fill="#ffaf00"/>
<rect x="454.00" y="49.94" width="6.67" height="7.20" fill="#ff6000"/>
<rect x="454.00" y="57.14" width="6.67" height="0.72" fill="#ff2000"/>
<rect x="454.00" y="57.86" width="6.67" height="2.40" fill="#ff0000"/>
<rect x="454.00" y="60.26" width="6.67" height="3.60" fill="#ef0000"/>
<rect x="454.00" y="63.86" width="6.67" height="4.80" fill="#df0000"/>
<rect x="454.00" y="68.66" width="6.67" height="7.20" fill="#cf0000"/>
<rect x="454.00" y="75.86" width="6.67" height="10.80" fill="#af0000"/>
<rect x="454.00" y="86.66" width="6.67" height="88.80" fill="#8f0000"/>
<rect x="454.00" y="175.46" width="6.67" height="146.88" fill="#9f0000"/>
<rect x="460.67" y="38.00" width="6.67" height="7.38" fill="#40ffbf"/>
<rect x="460.67" y="45.38" width="6.67" height="7.20" fill="#ffef00"/>
<rect x="460.67" y="52.58" width="6.67" height="7.44" fill="#ff7000"/>
<rect x="460.67" y="60.02" width="6.67" height="1.20" fill="#ff2000"/>
<rect x="460.67" y="61.22" width="6.67" height="2.40" fill="#ff0000"/>
<rect x="460.67" y="63.62" width="6.67" height="3.60" fill="#ef0000"/>
<rect x="460.67" y="67.22" width="6.67" height="4.80" fill="#df0000"/>
<rect x="460.67" y="72.02" width="6.67" height="7.20" fill="#cf0000"/>
<rect x="460.67" y="79.22" width="6.67" height="41.28" fill="#af0000"/>
<rect x="460.67" y="120.50" width="6.67" height="66.96" fill="#8f0000"/>
<rect x="460.67" y="187.46" width="6.67" height="124.32" fill="#9f0000"/>
<rect x="467.33" y="38.00" width="6.67" height="6.42" fill="#80ff80"/>
<rect x="467.33" y="44.42" width="6.67" height="5.52" fill="#ffef00"/>
<rect x="467.33" y="49.94" width="6.67" height="14.88" fill="#ff7000"/>
<rect x="467.33" y="64.82" width="6.67" height="0.96" fill="#ff2000"/>
<rect x="467.33" y="65.78" width="6.67" height="2.40" fill="#ff0000"/>
<rect x="467.33" y="68.18" width="6.67" height="3.60" fill="#ef0000"/>
<rect x="467.33" y="71.78" width="6.67" height="4.80" fill="#df0000"/>
<rect x="467.33" y="76.58" width="6.67" height="7.20" fill="#cf0000"/>
<rect x="467.33" y="83.78" width="6.67" height="36.72" fill="#bf0000"/>
<rect x="467.33" y="120.50" width="6.67" height="82.56" fill="#8f0000"/>
<rect x="467.33" y="203.06" width="6.67" height="131.76" fill="#9f0000"/>
<rect x="474.00" y="38.00" width="6.67" height="7.38" fill="#8fff70"/>
<rect x="474.00" y="45.38" width="6.67" height="3.12" fill="#ffef00"/>
<rect x="474.00" y="48.50" width="6.67" height="1.92" fill="#ff9f00"/>
<rect x="474.00" y="50.42" width="6.67" height="3.36" fill="#ff8000"/>
<rect x="474.00" y="53.78" width="6.67" height="3.36" fill="#ff5000"/>
<rect x="474.00" y="57.14" width="6.67" height="2.88" fill="#ff3000"/>
<rect x="474.00" y="60.02" width="6.67" height="2.40" fill="#ff0000"/>
<rect x="474.00" y="62.42" width="6.67" height="3.60" fill="#ef0000"/>
<rect x="474.00" y="66.02" width="6.67" height="4.80" fill="#df0000"/>
<rect x="474.00" y="70.82" width="6.67" height="7.20" fill="#cf0000"/>
<rect x="474.00" y="78.02" width="6.67" height="36.96" fill="#af0000"/>
<rect x="474.00" y="114.98" width="6.67" height="82.80" fill="#8f0000"/>
<rect x="474.00" y="197.78" width="6.67" height="114.00" fill="#9f0000"/>
<rect x="480.67" y="38.00" width="6.67" height="17.22" fill="#80ff80"/>
<rect x="480.67" y="55.22" width="6.67" height="0.48" fill="#ff9f00"/>
<rect x="480.67" y="55.70" width="6.67" height="2.60" fill="#ff8000"/>
<rect x="480.67" y="58.30" width="6.67" height="2.60" fill="#ff5000"/>
<rect x="480.67" y="60.91" width="6.67" height="2.23" fill="#ff3000"/>
<rect x="480.67" y="63.14" width="6.67" height="2.40" fill="#ff0000"/>
<rect x="480.67" y="65.54" width="6.67" height="3.60" fill="#ef0000"/>
<rect x="480.67" y="69.14" width="6.67" height="4.80" fill="#df0000"/>
<rect x="480.67" y="73.94" width="6.67" height="7.20" fill="#cf0000"/>
<rect x="480.67" y="81.14" width="6.67" height="26.88" fill="#bf0000"/>
<rect x="480.67" y="108.02" width="6.67" height="37.20" fill="#af0000"/>
<rect x="480.67" y="145.22" width="6.67" height="10.80" fill="#9f0000"/>
<rect x="480.67" y="156.02" width="6.67" height="40.80" fill="#8f0000"/>
<rect x="480.67" y="196.82" width="6.67" height="103.20" fill="#9f0000"/>
<rect x="487.33" y="38.00" width="6.67" height="0.90" fill="#cfff30"/>
<rect x="487.33" y="38.90" width="6.67" height="9.60" fill="#ffef00"/>
<rect x="487.33" y="48.50" width="6.67" height="1.92" fill="#ff9f00"/>
<rect x="487.33" y="50.42" width="6.67" height="5.38" fill="#ff8000"/>
<rect x="487.33" y="55.80" width="6.67" height="5.38" fill="#ff5000"/>
<rect x="487.33" y="61.17" width="6.67" height="4.61" fill="#ff3000"/>
<rect x="487.33" y="65.78" width="6.67" height="2.40" fill="#ff0000"/>
<rect x="487.33" y="68.18" width="6.67" height="3.60" fill="#ef0000"/>
<rect x="487.33" y="71.78" width="6.67" height="4.80" fill="#df0000"/>
<rect x="487.33" y="76.58" width="6.67" height="7.20" fill="#cf0000"/>
<rect x="487.33" y="83.78" width="6.67" height="18.72" fill="#cf0000"/>
<rect x="487.33" y="102.50" width="6.67" height="30.24" fill="#af0000"/>
<rect x="487.33" y="132.74" width="6.67" height="23.28" fill="#9f0000"/>
<rect x="487.33" y="156.02" width="6.67" height="49.68" fill="#8f0000"/>
<rect x="487.33" y="205.70" width="6.67" height="105.36" fill="#9f0000"/>
<rect x="494.00" y="38.00" width="6.67" height="5.70" fill="#dfff20"/>
<rect x="494.00" y="43.70" width="6.67" height="7.20" fill="#ffef00"/>
<rect x="494.00" y="50.90" width="6.67" height="0.24" fill="#ffbf00"/>
<rect x="494.00" y="51.14" width="6.67" height="1.92" fill="#ff9f00"/>
<rect x="494.00" y="53.06" width="6.67" height="3.61" fill="#ff8000"/>
<rect x="494.00" y="56.67" width="6.67" height="3.61" fill="#ff5000"/>
<rect x="494.00" y="60.28" width="6.67" height="3.10" fill="#ff3000"/>
<rect x="494.00" y="63.38" width="6.67" height="2.40" fill="#ff0000"/>
<rect x="494.00" y="65.78" width="6.67" height="3.60" fill="#ef0000"/>
<rect x="494.00" y="69.38" width="6.67" height="4.80" fill="#df0000"/>
<rect x="494.00" y="74.18" width="6.67" height="7.20" fill="#cf0000"/>
<rect x="494.00" y="81.38" width="6.67" height="48.00" fill="#af0000"/>
<rect x="494.00" y="129.38" width="6.67" height="73.68" fill="#8f0000"/>
<rect x="494.00" y="203.06" width="6.67" height="120.48" fill="#9f0000"/>
<rect x="500.67" y="38.00" width="6.67" height="5.70" fill="#cfff30"/>
<rect x="500.67" y="43.70" width="6.67" height="8.40" fill="#ffef00"/>
<rect x="500.67" y="52.10" width="6.67" height="0.48" fill="#ffbf00"/>
<rect x="500.67" y="52.58" width="6.67" height="1.92" fill="#ff9f00"/>
<rect x="500.67" y="54.50" width="6.67" height="3.78" fill="#ff8000"/>
<rect x="500.67" y="58.28" width="6.67" height="3.78" fill="#ff5000"/>
<rect x="500.67" y="62.06" width="6.67" height="3.24" fill="#ff3000"/>
<rect x="500.67" y="65.30" width="6.67" height="2.40" fill="#ff0000"/>
<rect x="500.67" y="67.70" width="6.67" height="3.60" fill="#ef0000"/>
<rect x="500.67" y="71.30" width="6.67" height="4.80" fill="#df0000"/>
<rect x="500.67" y="76.10" width="6.67" height="7.20" fill="#cf0000"/>
<rect x="500.67" y="83.30" width="6.67" height="3.36" fill="#bf0000"/>
<rect x="500.67" y="86.66" width="6.67" height="69.36" fill="#af0000"/>
<rect x="500.67" y="156.02" width="6.67" height="65.76" fill="#8f0000"/>
<rect x="500.67" y="221.78" width="6.67" height="138.24" fill="#9f0000"/>
<rect x="507.33" y="38.00" width="6.67" height="16.26" fill="#afff50"/>
<rect x="507.33" y="54.26" width="6.67" height="2.64" fill="#ffef00"/>
<rect x="507.33" y="56.90" width="6.67" height="1.20" fill="#ffbf00"/>
<rect x="507.33" y="58.10" width="6.67" height="1.92" fill="#ff9f00"/>
<rect x="507.33" y="60.02" width="6.67" height="4.87" fill="#ff8000"/>
<rect x="507.33" y="64.89" width="6.67" height="4.87" fill="#ff5000"/>
<rect x="507.33" y="69.76" width="6.67" height="4.18" fill="#ff3000"/>
<rect x="507.33" y="73.94" width="6.67" height="2.40" fill="#ff0000"/>
<rect x="507.33" y="76.34" width="6.67" height="3.60" fill="#ef0000"/>
<rect x="507.33" y="79.94" width="6.67" height="4.80" fill="#df0000"/>
<rect x="507.33" y="84.74" width="6.67" height="7.20" fill="#cf0000"/>
<rect x="507.33" y="91.94" width="6.67" height="23.04" fill="#cf0000"/>
<rect x="507.33" y="114.98" width="6.67" height="53.52" fill="#af0000"/>
<rect x="507.33" y="168.50" width="6.67" height="1.68" fill="#9f0000"/>
<rect x="507.33" y="170.18" width="6.67" height="59.52" fill="#8f0000"/>
<rect x="507.33" y="229.70" width="6.67" height="93.84" fill="#9f0000"/>
<rect x="514.00" y="38.00" width="6.67" height="15.30" fill="#ffff00"/>
<rect x="514.00" y="53.30" width="6.67" height="4.62" fill="#ff8000"/>
<rect x="514.00" y="57.92" width="6.67" height="4.62" fill="#ff5000"/>
<rect x="514.00" y="62.54" width="6.67" height="3.96" fill="#ff3000"/>
<rect x="514.00" y="66.50" width="6.67" height="2.40" fill="#ff0000"/>
<rect x="514.00" y="68.90" width="6.67" height="3.60" fill="#ef0000"/>
<rect x="514.00" y="72.50" width="6.67" height="4.80" fill="#df0000"/>
<rect x="514.00" y="77.30" width="6.67" height="7.20" fill="#cf0000"/>
<rect x="514.00" y="84.50" width="6.67" height="59.04" fill="#af0000"/>
<rect x="514.00" y="143.54" width="6.67" height="12.48" fill="#9f0000"/>
<rect x="514.00" y="156.02" width="6.67" height="37.20" fill="#8f0000"/>
<rect x="514.00" y="193.22" width="6.67" height="94.56" fill="#9f0000"/>
<rect x="520.67" y="38.00" width="6.67" height="20.10" fill="#ffff00"/>
<rect x="520.67" y="58.10" width="6.67" height="1.20" fill="#ff9f00"/>
<rect x="520.67" y="59.30" width="6.67" height="4.79" fill="#ff8000"/>
<rect x="520.67" y="64.09" width="6.67" height="4.79" fill="#ff5000"/>
<rect x="520.67" y="68.88" width="6.67" height="4.10" fill="#ff3000"/>
<rect x="520.67" y="72.98" width="6.67" height="2.40" fill="#ff0000"/>
<rect x="520.67" y="75.38" width="6.67" height="3.60" fill="#ef0000"/>
<rect x="520.67" y="78.98" width="6.67" height="4.80" fill="#df0000"/>
<rect x="520.67" y="83.78" width="6.67" height="7.20" fill="#cf0000"/>
<rect x="520.67" y="90.98" width="6.67" height="17.04" fill="#cf0000"/>
<rect x="520.67" y="108.02" width="6.67" height="54.96" fill="#af0000"/>
<rect x="520.67" y="162.98" width="6.67" height="0.96" fill="#9f0000"/>
<rect x="520.67" y="163.94" width="6.67" height="27.60" fill="#8f0000"/>
<rect x="520.67" y="191.54" width="6.67" height="108.48" fill="#9f0000"/>
<rect x="527.33" y="38.00" width="6.67" height="18.90" fill="#ffff00"/>
<rect x="527.33" y="56.90" width="6.67" height="1.20" fill="#ff9f00"/>
<rect x="527.33" y="58.10" width="6.67" height="5.21" fill="#ff8000"/>
<rect x="527.33" y="63.31" width="6.67" height="5.21" fill="#ff5000"/>
<rect x="527.33" y="68.52" width="6.67" height="4.46" fill="#ff3000"/>
<rect x="527.33" y="72.98" width="6.67" height="2.40" fill="#ff0000"/>
<rect x="527.33" y="75.38" width="6.67" height="3.60" fill="#ef0000"/>
<rect x="527.33" y="78.98" width="6.67" height="4.80" fill="#df0000"/>
<rect x="527.33" y="83.78" width="6.67" height="7.20" fill="#cf0000"/>
<rect x="527.33" y="90.98" width="6.67" height="38.40" fill="#cf0000"/>
<rect x="527.33" y="129.38" width="6.67" height="63.12" fill="#af0000"/>
<rect x="527.33" y="192.50" width="6.67" height="129.84" fill="#9f0000"/>
<rect x="534.00" y="38.00" width="6.67" height="16.50" fill="#ffcf00"/>
<rect x="534.00" y="54.50" width="6.67" height="3.36" fill="#ff8000"/>
<rect x="534.00" y="57.86" width="6.67" height="3.36" fill="#ff5000"/>
<rect x="534.00" y="61.22" width="6.67" height="2.88" fill="#ff3000"/>
<rect x="534.00" y="64.10" width="6.67" height="2.40" fill="#ff0000"/>
<rect x="534.00" y="66.50" width="6.67" height="3.60" fill="#ef0000"/>
<rect x="534.00" y="70.10" width="6.67" height="4.80" fill="#df0000"/>
<rect x="534.00" y="74.90" width="6.67" height="7.20" fill="#cf0000"/>
<rect x="534.00" y="82.10" width="6.67" height="79.20" fill="#af0000"/>
<rect x="534.00" y="161.30" width="6.67" height="31.20" fill="#8f0000"/>
<rect x="534.00" y="192.50" width="6.67" height="95.28" fill="#9f0000"/>
<rect x="540.67" y="38.00" width="6.67" height="18.90" fill="#ffdf00"/>
<rect x="540.67" y="56.90" width="6.67" height="0.72" fill="#ff9f00"/>
<rect x="540.67" y="57.62" width="6.67" height="3.95" fill="#ff8000"/>
<rect x="540.67" y="61.57" width="6.67" height="3.95" fill="#ff5000"/>
<rect x="540.67" y="65.52" width="6.67" height="3.38" fill="#ff3000"/>
<rect x="540.67" y="68.90" width="6.67" height="2.40" fill="#ff0000"/>
<rect x="540.67" y="71.30" width="6.67" height="3.60" fill="#ef0000"/>
<rect x="540.67" y="74.90" width="6.67" height="4.80" fill="#df0000"/>
<rect x="540.67" y="79.70" width="6.67" height="7.20" fill="#cf0000"/>
<rect x="540.67" y="86.90" width="6.67" height="10.32" fill="#bf0000"/>
<rect x="540.67" y="97.22" width="6.67" height="55.20" fill="#af0000"/>
<rect x="540.67" y="152.42" width="6.67" height="48.00" fill="#8f0000"/>
<rect x="540.67" y="200.42" width="6.67" height="111.36" fill="#9f0000"/>
<rect x="547.33" y="38.00" width="6.67" height="0.90" fill="#cfff30"/>
<rect x="547.33" y="38.90" width="6.67" height="15.60" fill="#ffef00"/>
<rect x="547.33" y="54.50" width="6.67" height="1.20" fill="#ff9f00"/>
<rect x="547.33" y="55.70" width="6.67" height="3.78" fill="#ff8000"/>
<rect x="547.33" y="59.48" width="6.67" height="3.78" fill="#ff5000"/>
<rect x="547.33" y="63.26" width="6.67" height="3.24" fill="#ff3000"/>
<rect x="547.33" y="66.50" width="6.67" height="2.40" fill="#ff0000"/>
<rect x="547.33" y="68.90" width="6.67" height="3.60" fill="#ef0000"/>
<rect x="547.33" y="72.50" width="6.67" height="4.80" fill="#df0000"/>
<rect x="547.33" y="77.30" width="6.67" height="7.20" fill="#cf0000"/>
<rect x="547.33" y="84.50" width="6.67" height="19.92" fill="#bf0000"/>
<rect x="547.33" y="104.42" width="6.67" height="51.60" fill="#af0000"/>
<rect x="547.33" y="156.02" width="6.67" height="144.00" fill="#9f0000"/>
<rect x="74.5" y="36.5" width="480" height="479.5" fill="none" stroke="#000" stroke-width="1"/>
<path d="M137.5 516v-5M137.5 37v5M204.5 516v-5M204.5 37v5M270.5 516v-5M270.5 37v5M337.5 516v-5M337.5 37v5M404.5 516v-5M404.5 37v5M470.5 516v-5M470.5 37v5M537.5 516v-5M537.5 37v5" stroke="#000" stroke-width="1" fill="none"/>
<rect x="570" y="508.52" width="19" height="7.78" fill="#00008f"/>
<rect x="570" y="501.03" width="19" height="7.78" fill="#00009f"/>
<rect x="570" y="493.55" width="19" height="7.78" fill="#0000af"/>
<rect x="570" y="486.06" width="19" height="7.78" fill="#0000bf"/>
<rect x="570" y="478.58" width="19" height="7.78" fill="#0000cf"/>
<rect x="570" y="471.09" width="19" height="7.78" fill="#0000df"/>
<rect x="570" y="463.61" width="19" height="7.78" fill="#0000ef"/>
<rect x="570" y="456.12" width="19" height="7.78" fill="#0000ff"/>
<rect x="570" y="448.64" width="19" height="7.78" fill="#0010ff"/>
<rect x="570" y="441.16" width="19" height="7.78" fill="#0020ff"/>
<rect x="570" y="433.67" width="19" height="7.78" fill="#0030ff"/>
<rect x="570" y="426.19" width="19" height="7.78" fill="#0040ff"/>
<rect x="570" y="418.70" width="19" height="7.78" fill="#0050ff"/>
<rect x="570" y="411.22" width="19" height="7.78" fill="#0060ff"/>
<rect x="570" y="403.73" width="19" height="7.78" fill="#0070ff"/>
<rect x="570" y="396.25" width="19" height="7.78" fill="#0080ff"/>
<rect x="570" y="388.77" width="19" height="7.78" fill="#008fff"/>
<rect x="570" y="381.28" width="19" height="7.78" fill="#009fff"/>
<rect x="570" y="373.80" width="19" height="7.78" fill="#00afff"/>
<rect x="570" y="366.31" width="19" height="7.78" fill="#00bfff"/>
<rect x="570" y="358.83" width="19" height="7.78" fill="#00cfff"/>
<rect x="570" y="351.34" width="19" height="7.78" fill="#00dfff"/>
<rect x="570" y="343.86" width="19" height="7.78" fill="#00efff"/>
<rect x="570" y="336.38" width="19" height="7.78" fill="#00ffff"/>
<rect x="570" y="328.89" width="19" height="7.78" fill="#10ffef"/>
<rect x="570" y="321.41" width="19" height="7.78" fill="#20ffdf"/>
<rect x="570" y="313.92" width="19" height="7.78" fill="#30ffcf"/>
<rect x="570" y="306.44" width="19" height="7.78" fill="#40ffbf"/>
<rect x="570" y="298.95" width="19" height="7.78" fill="#50ffaf"/>
<rect x="570" y="291.47" width="19" height="7.78" fill="#60ff9f"/>
<rect x="570" y="283.98" width="19" height="7.78" fill="#70ff8f"/>
<rect x="570" y="276.50" width="19" height="7.78" fill="#80ff80"/>
<rect x="570" y="269.02" width="19" height="7.78" fill="#8fff70"/>
<rect x="570" y="261.53" width="19" height="7.78" fill="#9fff60"/>
<rect x="570" y="254.05" width="19" height="7.78" fill="#afff50"/>
<rect x="570" y="246.56" width="19" height="7.78" fill="#bfff40"/>
<rect x="570" y="239.08" width="19" height="7.78" fill="#cfff30"/>
<rect x="570" y="231.59" width="19" height="7.78" fill="#dfff20"/>
<rect x="570" y="224.11" width="19" height="7.78" fill="#efff10"/>
<rect x="570" y="216.62" width="19" height="7.78" fill="#ffff00"/>
<rect x="570" y="209.14" width="19" height="7.78" fill="#ffef00"/>
<rect x="570" y="201.66" width="19" height="7.78" fill="#ffdf00"/>
<rect x="570" y="194.17" width="19" height="7.78" fill="#ffcf00"/>
<rect x="570" y="186.69" width="19" height="7.78" fill="#ffbf00"/>
<rect x="570" y="179.20" width="19" height="7.78" fill="#ffaf00"/>
<rect x="570" y="171.72" width="19" height="7.78" fill="#ff9f00"/>
<rect x="570" y="164.23" width="19" height="7.78" fill="#ff8f00"/>
<rect x="570" y="156.75" width="19" height="7.78" fill="#ff8000"/>
<rect x="570" y="149.27" width="19" height="7.78" fill="#ff7000"/>
<rect x="570" y="141.78" width="19" height="7.78" fill="#ff6000"/>
<rect x="570" y="134.30" width="19" height="7.78" fill="#ff5000"/>
<rect x="570" y="126.81" width="19" height="7.78" fill="#ff4000"/>
<rect x="570" y="119.33" width="19" height="7.78" fill="#ff3000"/>
<rect x="570" y="111.84" width="19" height="7.78" fill="#ff2000"/>
<rect x="570" y="104.36" width="19" height="7.78" fill="#ff1000"/>
<rect x="570" y="96.88" width="19" height="7.78" fill="#ff0000"/>
<rect x="570" y="89.39" width="19" height="7.78" fill="#ef0000"/>
<rect x="570" y="81.91" width="19" height="7.78" fill="#df0000"/>
<rect x="570" y="74.42" width="19" height="7.78" fill="#cf0000"/>
<rect x="570" y="66.94" width="19" height="7.78" fill="#bf0000"/>
<rect x="570" y="59.45" width="19" height="7.78" fill="#af0000"/>
<rect x="570" y="51.97" width="19" height="7.78" fill="#9f0000"/>
<rect x="570" y="44.48" width="19" height="7.78" fill="#8f0000"/>
<rect x="570" y="37.00" width="19" height="7.78" fill="#800000"/>
<rect x="569.5" y="36.5" width="20" height="480" fill="none" stroke="#000" stroke-width="1"/>
<path d="M570 37.5h4M585 37.5h4M570 100.5h4M585 100.5h4M570 162.5h4M585 162.5h4M570 225.5h4M585 225.5h4M570 287.5h4M585 287.5h4M570 350.5h4M585 350.5h4M570 412.5h4M585 412.5h4M570 475.5h4M585 475.5h4" stroke="#000" stroke-width="1" fill="none"/>
<path d="M377 38 L379 40 L377 43 L380 46 L383 44 L386 47 L389 45 L392 47 L395 44 L397 46 L399 42 L402 45 L404 40 L401 38" fill="none" stroke="#000" stroke-width="1.2" shape-rendering="crispEdges"/>
<path d="M379 37 L382 42 L385 39 L388 43 L391 40 L394 43 L397 39 L400 41" fill="none" stroke="#000" stroke-width="1.2" shape-rendering="crispEdges"/>
<path d="M381 44 L384 41 L387 44 L390 42 L393 45 L396 42" fill="none" stroke="#000" stroke-width="1.2" shape-rendering="crispEdges"/>
<path d="M378 40 L381 39 L384 37.5 M390 37.5 L393 38.5 L396 37.5" fill="none" stroke="#000" stroke-width="1.2" shape-rendering="crispEdges"/>
<path d="M403 38 L405 43 L403 48 M407 38 L409 44 L413 40 L415 45" fill="none" stroke="#000" stroke-width="1.2" shape-rendering="crispEdges"/>
<path d="M418 38 L421 41 L424 39 L427 41 L430 38" fill="none" stroke="#000" stroke-width="1.2" shape-rendering="crispEdges"/>
<path d="M377.5 38 L378.5 45 M383.5 37 L384 46 M387 42 L391 40 L395 44 L399 41 M377 47 L381 44 M389 37 L392 39 M395 37 L397 40" fill="none" stroke="#000" stroke-width="1.2" shape-rendering="crispEdges"/>
<path d="M415 39 L418 43 L421 40 M424 38 L427 42 M430 37 L432 40" fill="none" stroke="#000" stroke-width="1.2" shape-rendering="crispEdges"/>
<path d="M362 37 L362 44 L364 47" fill="none" stroke="#000" stroke-width="1.2" shape-rendering="crispEdges"/>
<path d="M320 41 L323 38 M323.5 37 L324 45" fill="none" stroke="#000" stroke-width="1.2" shape-rendering="crispEdges"/>
<path d="M203 75 L203 92 M203 75 L206 79 L209 83 L206 86 L203.5 87 M200 87 L206 87 M205.5 87 L205.5 92 L203 92" fill="none" stroke="#000" stroke-width="1.3" shape-rendering="crispEdges"/>
<text x="208.5" y="83.2" font-size="9.5" font-family="Liberation Sans, sans-serif" fill="#000" stroke="#000" stroke-width="0.35">5</text>
<text x="235.5" y="52" font-size="10" font-family="Liberation Sans, sans-serif" fill="#000" stroke="#000" stroke-width="0.35">3</text>
<text x="241.5" y="50.5" font-size="9" font-family="Liberation Sans, sans-serif" fill="#000" stroke="#000" stroke-width="0.35">4</text>
<text x="247.5" y="50.5" font-size="9" font-family="Liberation Sans, sans-serif" fill="#000" stroke="#000" stroke-width="0.35">.5</text>
<text x="489" y="43" font-size="6" font-family="Liberation Sans, sans-serif" fill="#000" stroke="#000" stroke-width="0.35">33.5</text>
<text x="505" y="43" font-size="6" font-family="Liberation Sans, sans-serif" fill="#000" stroke="#000" stroke-width="0.35">33.5</text>
<text x="522" y="43" font-size="6" font-family="Liberation Sans, sans-serif" fill="#000" stroke="#000" stroke-width="0.35">3</text>
<path d="M125.7 37.0 L127.0 42.0 L132.3 44.2 L136.3 47.3 L140.3 47.3 L144.3 45.3 L146.3 47.3 L149.6 49.9 L154.0 52.6 L158.0 53.9 L163.3 53.9 L167.3 52.6 L175.2 53.0 L180.5 52.6 L185.8 53.9 L190.0 51.7 L194.4 52.4 L197.4 57.6 L200.3 55.4 L206.2 56.1 L212.1 59.8 L217.2 63.5 L221.7 60.5 L225.4 59.8 L229.8 62.0 L234.2 56.1 L235.7 53.1 L237.1 48.7 L240.8 44.3 L243.0 39.2 L244.5 37.0" fill="none" stroke="#000" stroke-width="1.4" shape-rendering="crispEdges"/>
<path d="M245.0 37.0 L246.7 45.8 L254.8 45.0 L263.6 45.0 L266.6 41.4 L267.3 37.0" fill="none" stroke="#000" stroke-width="1.4" shape-rendering="crispEdges"/>
<path d="M201.8 37.0 L203.0 44.0 L204.0 48.7 L205.0 44.0 L206.2 37.0" fill="none" stroke="#000" stroke-width="1.4" shape-rendering="crispEdges"/>
<path d="M138.0 37.0 L138.0 40.0 L140.0 40.0 L140.0 37.0" fill="none" stroke="#000" stroke-width="1.4" shape-rendering="crispEdges"/>
<path d="M314.0 39.3 L320.6 41.3 L323.3 38.7" fill="none" stroke="#000" stroke-width="1.4" shape-rendering="crispEdges"/>
<path d="M325.3 37.0 L326.6 46.0 L331.2 47.9 L340.5 51.9 L345.8 54.6 L351.1 58.5 L356.4 55.9 L364.4 50.6 L370.0 48.7 L375.9 46.8 L379.8 48.7 L384.7 50.7 L387.7 54.6 L389.6 60.5 L396.5 73.3 L402.4 82.1 L409.3 84.1 L412.2 80.2 L414.2 73.3 L415.2 63.5 L416.2 58.6 L421.1 60.5 L427.0 58.6 L430.0 58.0 L434.3 54.7 L438.5 52.1 L442.8 44.1 L444.9 45.7 L447.0 54.2 L450.2 56.3 L458.7 58.5 L464.0 62.2 L470.4 67.0 L476.8 59.5 L483.2 61.7 L489.6 64.9 L491.7 67.0 L496.4 64.3 L502.8 65.9 L507.0 70.2 L510.7 78.7 L517.7 67.5 L524.0 73.9 L530.4 75.0 L536.8 66.4 L543.7 71.8 L550.6 67.0 L554.0 65.0" fill="none" stroke="#000" stroke-width="1.4" shape-rendering="crispEdges"/>
<path d="M336.5 37.0 L340.5 39.3 L345.8 42.0 L349.8 43.3 L353.8 42.0 L360.4 40.6 L364.4 37.5" fill="none" stroke="#000" stroke-width="1.4" shape-rendering="crispEdges"/>
<path d="M386.7 46.8 L394.6 50.7 L399.5 53.6 L402.4 62.5 L404.4 68.4 L409.3 68.4 L413.2 63.5 L416.2 61.5" fill="none" stroke="#000" stroke-width="1.4" shape-rendering="crispEdges"/>
<path d="M409.0 40.0 L410.0 50.0 L412.0 58.0 L408.0 62.0 L411.0 66.0" fill="none" stroke="#000" stroke-width="1.4" shape-rendering="crispEdges"/>
<path d="M380.0 44.0 L388.0 47.5 L398.0 46.5 L405.0 43.5 L410.0 39.0 L414.0 40.0 L420.0 44.0 L428.0 47.0 L430.0 51.0 L436.4 45.7 L441.7 43.0 L446.0 44.6 L449.1 50.0 L452.3 53.1 L457.7 54.2 L465.1 53.1 L472.6 48.9 L477.9 45.7 L481.1 54.2 L483.2 56.3 L486.4 51.0 L489.6 48.9 L493.2 54.2 L498.5 53.7 L503.8 54.2 L507.0 56.3 L510.7 61.1 L517.7 54.2 L524.0 60.6 L532.6 58.5 L536.8 54.2 L543.7 59.5 L550.6 55.3 L554.0 54.0" fill="none" stroke="#000" stroke-width="1.4" shape-rendering="crispEdges"/>
<path d="M459.8 37.0 L460.9 43.6 L465.1 45.7 L469.4 43.6 L471.5 38.3 L472.6 37.0" fill="none" stroke="#000" stroke-width="1.4" shape-rendering="crispEdges"/>
<path d="M482.1 37.0 L483.2 54.2 L485.3 54.2 L487.4 40.4 L488.0 37.0" fill="none" stroke="#000" stroke-width="1.4" shape-rendering="crispEdges"/>
<path d="M507.6 37.0 L510.2 56.3 L512.9 51.0 L517.7 45.7 L519.3 37.0" fill="none" stroke="#000" stroke-width="1.4" shape-rendering="crispEdges"/>
<path d="M430.0 46.8 L436.4 43.6 L441.7 40.4 L443.0 37.0" fill="none" stroke="#000" stroke-width="1.4" shape-rendering="crispEdges"/>
</svg>
<svg width="611" height="675" style="position:absolute;left:0;top:0" xml:space="preserve"><text x="314" y="22" font-size="17" font-weight="bold" text-anchor="middle" >Salinity | Salinité</text>
<text x="72.4" y="41" font-size="12" font-weight="normal" text-anchor="end" letter-spacing="0.9">0</text>
<text x="72.4" y="89" font-size="12" font-weight="normal" text-anchor="end" letter-spacing="0.9">200</text>
<text x="72.4" y="137" font-size="12" font-weight="normal" text-anchor="end" letter-spacing="0.9">400</text>
<text x="72.4" y="185" font-size="12" font-weight="normal" text-anchor="end" letter-spacing="0.9">600</text>
<text x="72.4" y="233" font-size="12" font-weight="normal" text-anchor="end" letter-spacing="0.9">800</text>
<text x="72.4" y="281" font-size="12" font-weight="normal" text-anchor="end" letter-spacing="0.9">1000</text>
<text x="72.4" y="329" font-size="12" font-weight="normal" text-anchor="end" letter-spacing="0.9">1200</text>
<text x="72.4" y="377" font-size="12" font-weight="normal" text-anchor="end" letter-spacing="0.9">1400</text>
<text x="72.4" y="425" font-size="12" font-weight="normal" text-anchor="end" letter-spacing="0.9">1600</text>
<text x="72.4" y="473" font-size="12" font-weight="normal" text-anchor="end" letter-spacing="0.9">1800</text>
<text x="72.4" y="521" font-size="12" font-weight="normal" text-anchor="end" letter-spacing="0.9">2000</text>
<text x="138" y="531" font-size="12" font-weight="normal" text-anchor="middle" letter-spacing="0.3">10</text>
<text x="204" y="531" font-size="12" font-weight="normal" text-anchor="middle" letter-spacing="0.3">20</text>
<text x="271" y="531" font-size="12" font-weight="normal" text-anchor="middle" letter-spacing="0.3">30</text>
<text x="338" y="531" font-size="12" font-weight="normal" text-anchor="middle" letter-spacing="0.3">40</text>
<text x="404" y="531" font-size="12" font-weight="normal" text-anchor="middle" letter-spacing="0.3">50</text>
<text x="471" y="531" font-size="12" font-weight="normal" text-anchor="middle" letter-spacing="0.3">60</text>
<text x="538" y="531" font-size="12" font-weight="normal" text-anchor="middle" letter-spacing="0.3">70</text>
<text x="314" y="546.5" font-size="14" font-weight="bold" text-anchor="middle" >Cycle</text>
<text x="0" y="0" font-size="14" font-weight="bold" textLength="188" lengthAdjust="spacing" transform="translate(34,371) rotate(-90)">Pressure / Pression (dbar)</text>
<text x="570.5" y="27" font-size="10" font-weight="normal" text-anchor="start" >psu</text>
<text x="592" y="42" font-size="12" font-weight="normal" text-anchor="start" >35</text>
<text x="592" y="105" font-size="12" font-weight="normal" text-anchor="start" >34.5</text>
<text x="592" y="167" font-size="12" font-weight="normal" text-anchor="start" >34</text>
<text x="592" y="230" font-size="12" font-weight="normal" text-anchor="start" >33.5</text>
<text x="592" y="292" font-size="12" font-weight="normal" text-anchor="start" >33</text>
<text x="592" y="355" font-size="12" font-weight="normal" text-anchor="start" >32.5</text>
<text x="592" y="417" font-size="12" font-weight="normal" text-anchor="start" >32</text>
<text x="592" y="480" font-size="12" font-weight="normal" text-anchor="start" >31.5</text>
<text x="78.1" y="581.8" font-size="13" font-weight="normal" textLength="158.0" lengthAdjust="spacing" stroke="#000" stroke-width="0.55">Float/Profileur dérivant:</text>
<text x="242.6" y="581.8" font-size="13" font-weight="normal" textLength="50.9" lengthAdjust="spacing" >4901171</text>
<text x="78.1" y="601" font-size="13" font-weight="normal" textLength="102.9" lengthAdjust="spacing" stroke="#000" stroke-width="0.55">Period/Période:</text>
<text x="187.6" y="601" font-size="13" font-weight="normal" textLength="61.9" lengthAdjust="spacing" >5/15/2011</text>
<text x="257.3" y="601" font-size="13" font-weight="normal" textLength="23.2" lengthAdjust="spacing" >to/à</text>
<text x="287.0" y="601" font-size="13" font-weight="normal" textLength="64.5" lengthAdjust="spacing" >4/24/2013</text>
<text x="78.1" y="621" font-size="9" font-weight="normal" textLength="258.4" lengthAdjust="spacing" >Tick marks at top indicate stations with delayed mode data</text>
<text x="78.1" y="641.3" font-size="9" font-weight="normal" textLength="294.7" lengthAdjust="spacing" >Les traits de l'axe supérieur indiquent les données en mode différé</text>
<text x="453.1" y="661" font-size="9" font-weight="normal" textLength="101.2" lengthAdjust="spacing" >ISDM | GDSI  02/20/23</text></svg>
</body></html>
